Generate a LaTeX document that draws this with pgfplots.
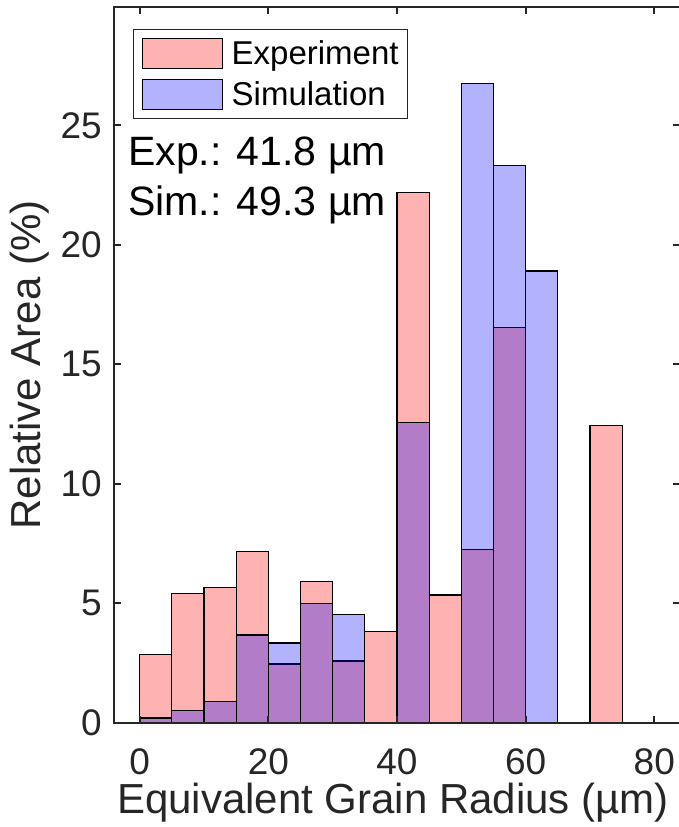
\documentclass[border=0pt]{standalone}
\usepackage{fontspec}
\setmainfont{Liberation Sans}
\usepackage{pgfplots}
\pgfplotsset{compat=1.18}
\usepackage{pgfplotstable}
\definecolor{axgray}{rgb}{0.15,0.15,0.15}

% bin left edges (width 5), relative area in %
\pgfplotstableread{
x    y
0    2.86
5    5.41
10   5.65
15   7.17
20   2.45
25   5.90
30   2.58
35   3.81
40   22.17
45   5.34
50   7.23
55   16.52
60   0
65   0
70   12.42
75   0
}\expdata
\pgfplotstableread{
x    y
0    0.19
5    0.50
10   0.88
15   3.67
20   3.33
25   4.97
30   4.52
35   0
40   12.56
45   0
50   26.74
55   23.32
60   18.90
65   0
}\simdata

\begin{document}
\begin{tikzpicture}
\begin{axis}[
  at={(0,0)}, anchor=south west,
  scale only axis, width=566pt, height=715.6pt,
  xmin=-4, xmax=84, ymin=0, ymax=29.95,
  xtick={0,20,...,80}, ytick={0,5,...,25},
  tick align=inside,
  major tick length=7pt,
  axis line style={axgray, line width=2pt},
  every tick/.style={axgray, line width=2pt},
  axis on top,
  /pgf/number format/assume math mode=true,
  ticklabel style={font=\fontsize{37}{44}\selectfont, text=axgray, inner sep=0pt},
  xticklabel style={anchor=north, yshift=-26pt},
  yticklabel style={anchor=east, xshift=-12pt},
  xlabel={Equivalent Grain Radius (µm)},
  ylabel={Relative Area (\%)},
  label style={font=\fontsize{42}{50}\selectfont, text=axgray, inner sep=0pt},
  xlabel style={at={(axis description cs:0.493,0)}, anchor=base, yshift=-90.4pt},
  ylabel style={at={(axis description cs:-0.1307,0.5)}, anchor=base},
  legend style={at={(0.0336,0.9688)}, anchor=north west,
    draw=axgray, line width=1pt, inner sep=8pt,
    font=\fontsize{33}{36}\selectfont, row sep=10pt,
    nodes={inner sep=1pt},
    /tikz/every odd column/.append style={column sep=8pt}},
  legend cell align=left,
  legend image code/.code={\draw[#1, line width=1.2pt] (0pt,-15pt) rectangle (80pt,15pt);},
]
\addplot[ybar interval, fill=red, fill opacity=0.3, draw=black, line width=1.2pt]
  table[x=x, y=y] {\expdata};
\addlegendentry{Experiment}
\addplot[ybar interval, fill=blue, fill opacity=0.3, draw=black, line width=1.2pt]
  table[x=x, y=y] {\simdata};
\addlegendentry{Simulation}
\node[anchor=base west, inner sep=0pt, font=\fontsize{41}{48}\selectfont]
  at (axis description cs:0.025,0.778) {Exp.: 41.8 µm};
\node[anchor=base west, inner sep=0pt, font=\fontsize{41}{48}\selectfont]
  at (axis description cs:0.025,0.709) {Sim.: 49.3 µm};
\end{axis}
\pgfresetboundingbox
\path[use as bounding box] (-114pt,-104.4pt) rectangle (565pt,722.6pt);
\end{tikzpicture}
\end{document}
